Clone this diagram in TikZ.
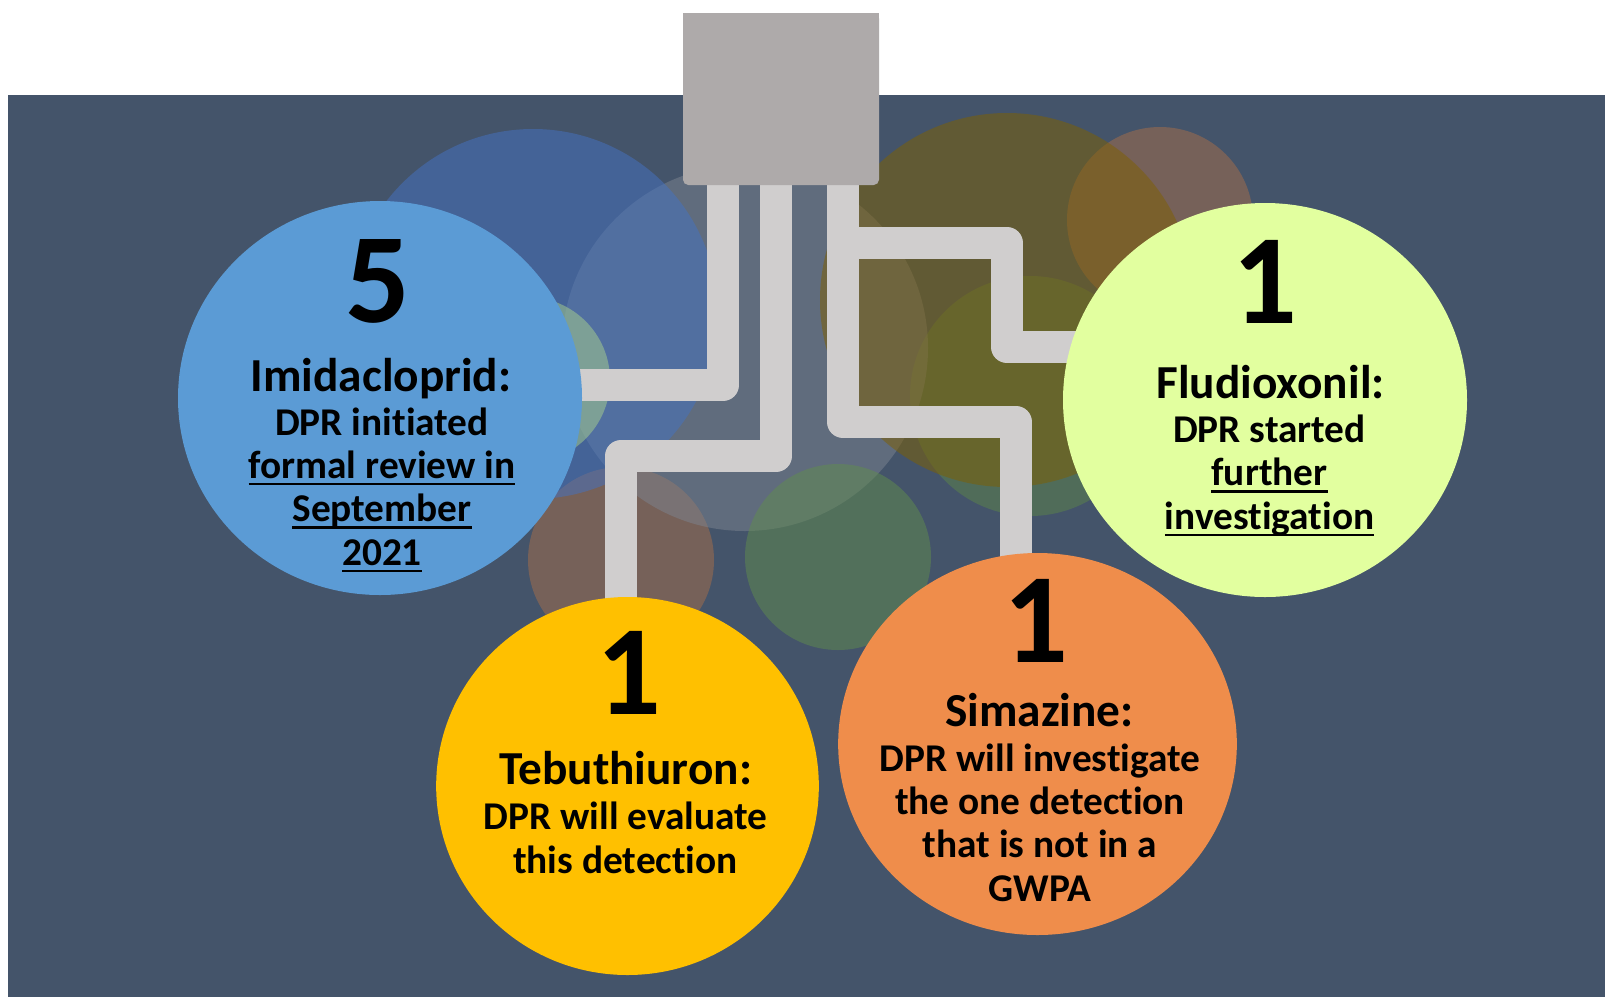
\documentclass[tikz,border=0pt]{standalone}
\usepackage{fontspec}
\setmainfont{Carlito}[Ligatures={NoCommon,NoContextual,NoRequired},Contextuals=NoAlternate]
\usetikzlibrary{shapes.geometric}
\definecolor{bgdark}{HTML}{44546A}
\definecolor{boxgray}{HTML}{AEAAAA}
\definecolor{pipegray}{HTML}{D0CECE}
\definecolor{mainblue}{HTML}{5B9BD5}
\definecolor{mainyellow}{HTML}{FFC000}
\definecolor{mainorange}{HTML}{EF8D4B}
\definecolor{mainlime}{HTML}{E2FF9F}
\definecolor{tgray}{HTML}{7C8490}
\definecolor{tblue}{HTML}{4472C4}
\definecolor{tolive}{HTML}{7F6000}
\definecolor{tbrown}{HTML}{A86E4A}
\definecolor{tgreen}{HTML}{608C4E}
\definecolor{tgreenmid}{HTML}{5C844A}
\definecolor{tlightgreen}{HTML}{A9D18E}
\newsavebox\ulbx
\newcommand\ulined[1]{\sbox\ulbx{#1}\rlap{\rule[-0.18em]{\wd\ulbx}{0.06em}}\usebox\ulbx}
\newcommand\tbrk{\kern0pt }
\pgfdeclarelayer{back}
\pgfdeclarelayer{pipes}
\pgfsetlayers{back,pipes,main}
\tikzset{
  bubble/.style={fill opacity=0.5},
  pipe/.style={draw=pipegray, line width=24pt, line join=round},
  bigdisc/.style={ellipse, inner sep=0pt, draw=none},
  numtxt/.style={font=\fontsize{96}{96}\selectfont\bfseries, anchor=base, inner sep=0pt},
  titletxt/.style={font=\fontsize{35.5}{40}\selectfont\bfseries, anchor=base, inner sep=0pt},
  bodytxt/.style={font=\fontsize{29.5}{32.5}\selectfont\bfseries, anchor=base, inner sep=0pt, align=center},
}
\begin{document}
\begin{tikzpicture}[x=0.75pt,y=-0.75pt]
\useasboundingbox (0,0) rectangle (1609,997);
\begin{pgfonlayer}{back}
\fill[white] (0,0) rectangle (1609,997);
\fill[bgdark] (8,95) rectangle (1605,997);
\fill[tbrown, bubble] (621,560) circle[radius=93];
\fill[tgreenmid, bubble] (1030,396) circle[radius=120];
\fill[tbrown, bubble] (1160,220) circle[radius=93];
\fill[tgray, bubble] (745,348) circle[radius=183];
\fill[tgreen, bubble] (838,557) circle[radius=93];
\fill[tblue, bubble] (533,314) circle[radius=185];
\fill[tlightgreen, bubble] (527,380) circle[radius=83];
\fill[tolive, bubble] (1007,300) circle[radius=187];
\end{pgfonlayer}

% main shapes
\node[fill=boxgray, rounded corners=4pt, minimum width=147pt, minimum height=129pt, inner sep=0pt] (box) at (781,99) {};
\fill[boxgray] (box.north west) rectangle (box.east);
\node[bigdisc, fill=mainblue, minimum width=303pt, minimum height=295.5pt] (imid) at (380,398) {};
\node[bigdisc, fill=mainyellow, minimum width=287pt, minimum height=283.5pt] (teb) at (627.5,786) {};
\node[bigdisc, fill=mainorange, minimum width=299pt, minimum height=286.5pt] (sim) at (1037.5,744) {};
\node[bigdisc, fill=mainlime, minimum width=303pt, minimum height=295.5pt] (flu) at (1265,400) {};

% pipes
\begin{pgfonlayer}{pipes}
\draw[pipe] (box.south -| 723,0) -- (723,385) -- (imid.center |- 723,385);
\draw[pipe] (box.south -| 776,0) -- (776,456) -- (621,456) -- (teb.center -| 621,0);
\draw[pipe] (box.south -| 843,0) -- (843,243) -- (1007,243) -- (1007,347) -- (flu.center |- 0,347);
\draw[pipe] (box.south -| 843,0) -- (843,422) -- (1016,422) -- (sim.center -| 1016,0);
\end{pgfonlayer}

% texts (body nodes are anchored at the baseline of their last line)
\node[numtxt] (imidnum) at (378,322) {5};
\node[titletxt] (imidtitle) at (381,391) {Imidacloprid:};
\node[bodytxt] (imidbody) at (382,565) {DPR init\tbrk iated\\\ulined{formal review in}\\\ulined{September}\\\ulined{2021}};

\node[numtxt] (tebnum) at (629,714) {1};
\node[titletxt] (tebtitle) at (625.5,784) {Tebuthiuron:};
\node[bodytxt] (tebbody) at (625.5,873) {DPR will evaluate\\this detection};

\node[numtxt] (simnum) at (1036,662) {1};
\node[titletxt] (simtitle) at (1039.5,726) {Simazine:};
\node[bodytxt] (simbody) at (1040,901) {DPR will invest\tbrk igate\\the one detection\\that is not in a\\GWPA};

\node[numtxt] (flunum) at (1265,323) {1};
\node[titletxt] (flutitle) at (1270.5,398) {Fludioxonil:};
\node[bodytxt] (flubody) at (1269.5,529) {DPR started\\\ulined{further}\\\ulined{invest\tbrk igat\tbrk ion}};
\end{tikzpicture}
\end{document}
